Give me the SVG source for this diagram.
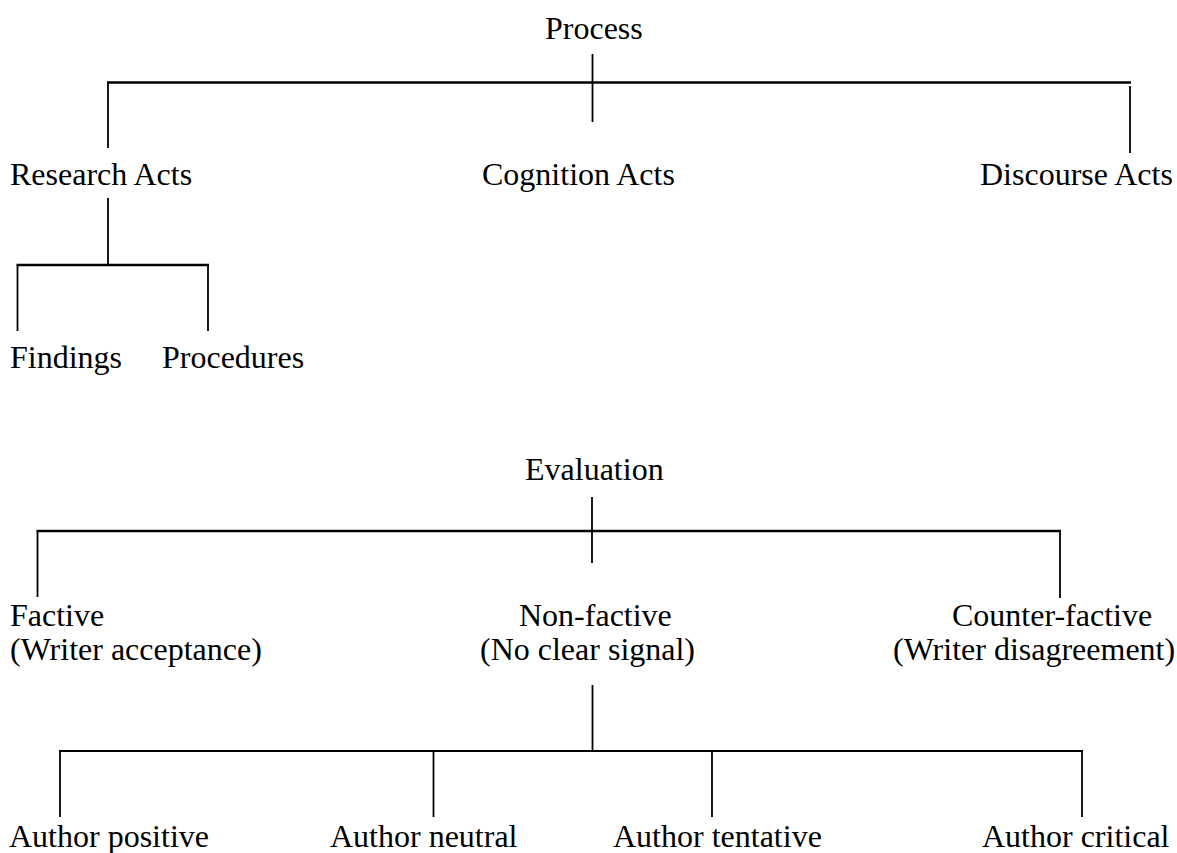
<svg xmlns="http://www.w3.org/2000/svg" width="1177" height="853" viewBox="0 0 1177 853">
<style>
  text { font-family: "Liberation Serif", "Times New Roman", serif; font-size: 32px; fill: #000; }
  .ln { stroke: #000; stroke-width: 1.8; fill: none; }
  .hz { stroke: #000; stroke-width: 2.5; fill: none; }
</style>
<rect width="1177" height="853" fill="#fff"/>
<g id="connectors">
  <line class="ln" x1="592.5" y1="54" x2="592.5" y2="122"/>
  <line class="hz" x1="107" y1="82.5" x2="1131" y2="82.5"/>
  <line class="ln" x1="108" y1="82.5" x2="108" y2="148"/>
  <line class="ln" x1="1130" y1="86" x2="1130" y2="153"/>
  <line class="ln" x1="108" y1="198" x2="108" y2="265"/>
  <line class="hz" x1="16.5" y1="265" x2="209" y2="265"/>
  <line class="ln" x1="17.5" y1="265" x2="17.5" y2="331"/>
  <line class="ln" x1="208" y1="265" x2="208" y2="331"/>
  <line class="ln" x1="592" y1="497" x2="592" y2="563"/>
  <line class="hz" x1="36.5" y1="531" x2="1061" y2="531"/>
  <line class="ln" x1="37.5" y1="531" x2="37.5" y2="597"/>
  <line class="ln" x1="1060" y1="531" x2="1060" y2="598"/>
  <line class="ln" x1="592.5" y1="685" x2="592.5" y2="751"/>
  <line class="ln" x1="59" y1="751" x2="1083" y2="751"/>
  <line class="ln" x1="60" y1="751" x2="60" y2="817"/>
  <line class="ln" x1="433.5" y1="751" x2="433.5" y2="817"/>
  <line class="ln" x1="712" y1="751" x2="712" y2="817"/>
  <line class="ln" x1="1082" y1="751" x2="1082" y2="817"/>
</g>
<g id="process"><text x="545" y="39">Process</text></g>
<g id="research-acts"><text x="10" y="185">Research Acts</text></g>
<g id="cognition-acts"><text x="482" y="185">Cognition Acts</text></g>
<g id="discourse-acts"><text x="980" y="185">Discourse Acts</text></g>
<g id="findings"><text x="10" y="368">Findings</text></g>
<g id="procedures"><text x="162" y="368">Procedures</text></g>
<g id="evaluation"><text x="525" y="480">Evaluation</text></g>
<g id="factive"><text x="10" y="626">Factive</text><text x="10" y="660">(Writer acceptance)</text></g>
<g id="non-factive"><text x="519" y="626">Non-factive</text><text x="480" y="660">(No clear signal)</text></g>
<g id="counter-factive"><text x="952" y="626">Counter-factive</text><text x="893" y="660">(Writer disagreement)</text></g>
<g id="author-positive"><text x="9" y="847">Author positive</text></g>
<g id="author-neutral"><text x="330" y="847">Author neutral</text></g>
<g id="author-tentative"><text x="613" y="847">Author tentative</text></g>
<g id="author-critical"><text x="982" y="847">Author critical</text></g>
</svg>
